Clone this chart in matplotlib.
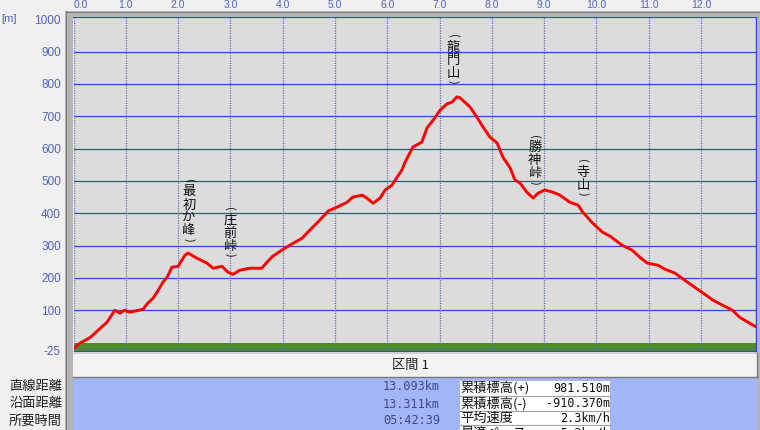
import matplotlib
matplotlib.use("Agg")
import matplotlib.pyplot as plt
from matplotlib.patches import Rectangle

# ---------------- data ----------------
dist_km = [0.00, 0.03, 0.12, 0.32, 0.51, 0.64, 0.79, 0.89, 0.97, 1.08, 1.33, 1.42, 1.52,
           1.62, 1.71, 1.79, 1.88, 2.00, 2.13, 2.19, 2.36, 2.55, 2.67, 2.84, 2.95, 3.05,
           3.18, 3.37, 3.60, 3.70, 3.81, 4.01, 4.20, 4.37, 4.52, 4.71, 4.87, 5.04, 5.23,
           5.34, 5.52, 5.61, 5.73, 5.86, 5.96, 6.09, 6.19, 6.28, 6.34, 6.49, 6.66, 6.76,
           6.91, 7.01, 7.14, 7.24, 7.33, 7.39, 7.58, 7.71, 7.83, 7.96, 8.10, 8.21, 8.35,
           8.44, 8.54, 8.67, 8.79, 8.88, 9.01, 9.17, 9.30, 9.49, 9.65, 9.74, 9.93, 10.11,
           10.26, 10.49, 10.68, 10.83, 10.97, 11.18, 11.31, 11.50, 11.66, 11.88, 12.04,
           12.23, 12.42, 12.60, 12.74, 12.93, 13.07]
elev_m = [-18, -15, -2, 16, 44, 63, 100, 91, 100, 94, 103, 122, 137,
          162, 187, 202, 233, 236, 270, 277, 261, 246, 230, 236, 218, 211,
          224, 230, 230, 249, 267, 289, 307, 323, 348, 379, 407, 419, 434,
          450, 456, 447, 431, 447, 472, 487, 512, 534, 558, 605, 620, 664,
          695, 719, 738, 744, 760, 757, 729, 698, 667, 636, 617, 574, 540,
          503, 493, 465, 447, 462, 472, 465, 456, 434, 425, 403, 369, 342,
          329, 301, 286, 264, 246, 239, 227, 215, 196, 171, 153,
          131, 115, 100, 78, 60, 47]

y_ticks = [-25, 100, 200, 300, 400, 500, 600, 700, 800, 900, 1000]
x_ticks = list(range(0, 13))
x_tick_labels = [f"{v:.1f}" for v in x_ticks]

peak_names = ["最初か峰", "庄前峠", "龍門山", "勝神峠", "寺山"]
peak_label_km = [2.21, 2.99, 7.26, 8.82, 9.74]
peak_label_top_m = [500, 413, 948, 636, 559]

section_title = "区間 1"
left_labels = ["直線距離", "沿面距離", "所要時間"]
left_values = ["13.093km", "13.311km", "05:42:39"]
stat_labels = ["累積標高(+)", "累積標高(-)", "平均速度", "最適ペース"]
stat_values = ["981.510m", "-910.370m", "2.3km/h", "5.3km/h"]

# ---------------- style ----------------
W, H = 760, 430
CJK = ["Noto Sans CJK JP", "DejaVu Sans"]
TICK_BLUE = "#5462c2"
GRID_BLUE = "#2a48e6"
BG = "#f0f0f0"

def fx(x):
    return x / W

def fy(y):
    return 1 - y / H

fig = plt.figure(figsize=(W / 100, H / 100), dpi=100, facecolor=BG)

# frame around the plot (gray bevel)
fig.patches.append(Rectangle((fx(65), fy(430)), fx(8), 419 / H, transform=fig.transFigure,
                             facecolor="#b4b4b4", edgecolor="none", zorder=0))
fig.patches.append(Rectangle((fx(65), fy(17)), fx(695), 6 / H, transform=fig.transFigure,
                             facecolor="#b4b4b4", edgecolor="none", zorder=0))
fig.patches.append(Rectangle((fx(757), fy(430)), fx(3), 419 / H, transform=fig.transFigure,
                             facecolor="#b4b4b4", edgecolor="none", zorder=0))
fig.lines.append(plt.Line2D([fx(65.5), fx(65.5)], [fy(430), fy(11)], transform=fig.transFigure,
                            color="#808080", lw=0.8))
fig.lines.append(plt.Line2D([fx(65.5), fx(760)], [fy(11.5), fy(11.5)], transform=fig.transFigure,
                            color="#808080", lw=0.8))

# header bar and info area
fig.patches.append(Rectangle((fx(73), fy(376)), fx(684), 23 / H, transform=fig.transFigure,
                             facecolor="#f3f3f3", edgecolor="none", zorder=1))
fig.lines.append(plt.Line2D([fx(73), fx(757)], [fy(376.5), fy(376.5)], transform=fig.transFigure,
                            color="#7a7a7a", lw=1.0))
fig.lines.append(plt.Line2D([fx(73), fx(757)], [fy(353), fy(353)], transform=fig.transFigure,
                            color="#d0d0d0", lw=0.8))
fig.lines.append(plt.Line2D([fx(756.5), fx(756.5)], [fy(376.5), fy(353)], transform=fig.transFigure,
                            color="#7a7a7a", lw=1.0))
fig.patches.append(Rectangle((fx(73), fy(430)), fx(684), 53 / H, transform=fig.transFigure,
                             facecolor="#a4b5f8", edgecolor="none", zorder=1))
fig.patches.append(Rectangle((fx(460), fy(430)), fx(150), 49.5 / H, transform=fig.transFigure,
                             facecolor="white", edgecolor="none", zorder=2))
for ysep in [396, 410.5, 425]:
    fig.lines.append(plt.Line2D([fx(460), fx(610)], [fy(ysep), fy(ysep)], transform=fig.transFigure,
                                color="#a0a0a0", lw=0.8, zorder=3))

# ---------------- plot ----------------
x_left, x_right = 73.5, 756.0
y_top, y_bot = 17.3, 350.7
px_per_km = 52.3
ax = fig.add_axes([fx(x_left), fy(y_bot), (x_right - x_left) / W, (y_bot - y_top) / H])
ax.set_facecolor("#dcdcdc")
ax.set_xlim(0, (x_right - x_left) / px_per_km)
ax.set_ylim(-25, 1006)

ax.axhspan(-25, 0, color="#4e8a2e", zorder=1, lw=0)
for v in y_ticks[1:-1]:
    ax.axhline(v, color=GRID_BLUE, lw=0.9, zorder=2)
for v in x_ticks:
    ax.axvline(v, color="#6470b0", lw=0.9, ls=(0, (1, 1)), zorder=2)

ax.plot(dist_km, elev_m, color="#ff0000", lw=2.1, zorder=4, solid_joinstyle="round")

ax.spines["left"].set_visible(False)
for s in ["top", "bottom", "right"]:
    ax.spines[s].set_color(GRID_BLUE)
ax.spines["top"].set_linewidth(1.6)
ax.spines["bottom"].set_linewidth(1.0)
ax.spines["right"].set_linewidth(1.0)

ax.set_yticks(y_ticks)
ax.set_yticklabels([str(v) for v in y_ticks], family="Liberation Sans", fontsize=8.5,
                   color=TICK_BLUE)
ax.tick_params(axis="y", length=0, pad=9)
ax.xaxis.tick_top()
ax.set_xticks(x_ticks)
ax.set_xticklabels(x_tick_labels, family="Liberation Sans", fontsize=7.5, color=TICK_BLUE)
ax.tick_params(axis="x", length=0, pad=5.5)
ax.get_xticklabels()[0].set_ha("left")

fig.text(fx(1), fy(22), "[m]", ha="left", va="baseline", family="Liberation Sans",
         fontsize=8, color=TICK_BLUE)

# vertical peak labels
PX = 0.72  # points per pixel
for name, km, top in zip(peak_names, peak_label_km, peak_label_top_m):
    ax.annotate("(", xy=(km, top), xytext=(0, 0.5 * PX), textcoords="offset points",
                ha="center", va="center", rotation=-90, fontsize=8, family=CJK,
                color="#101010", zorder=5)
    off = 11.0
    for ch in name:
        ax.annotate(ch, xy=(km, top), xytext=(0, -off * PX), textcoords="offset points",
                    ha="center", va="center", fontsize=9.5, family=CJK, color="#101010", zorder=5)
        off += 13.0
    ax.annotate(")", xy=(km, top), xytext=(0, -(off - 13.0 + 8.5) * PX), textcoords="offset points",
                ha="center", va="center", rotation=-90, fontsize=8, family=CJK,
                color="#101010", zorder=5)

# ---------------- info panel text ----------------
fig.text(fx(410), fy(365), section_title, ha="center", va="center", family=CJK,
         fontsize=9.5, color="#202020", zorder=5)
for lab, val, yc in zip(left_labels, left_values, [386, 404, 421]):
    fig.text(fx(62), fy(yc), lab, ha="right", va="center", family=CJK, fontsize=9.5,
             color="#202020", zorder=5)
    fig.text(fx(440), fy(yc), val, ha="right", va="center", family="DejaVu Sans Mono",
             fontsize=8.5, color="#3c4a8c", zorder=5)
for lab, val, yc in zip(stat_labels, stat_values, [388, 403.5, 418, 433]):
    fig.text(fx(460), fy(yc), lab, ha="left", va="center", family=CJK, fontsize=9.5,
             color="#101010", zorder=5)
    fig.text(fx(610), fy(yc), val, ha="right", va="center", family="DejaVu Sans Mono",
             fontsize=8.5, color="#101010", zorder=5)

fig.savefig("out.png", dpi=100, facecolor=BG)
